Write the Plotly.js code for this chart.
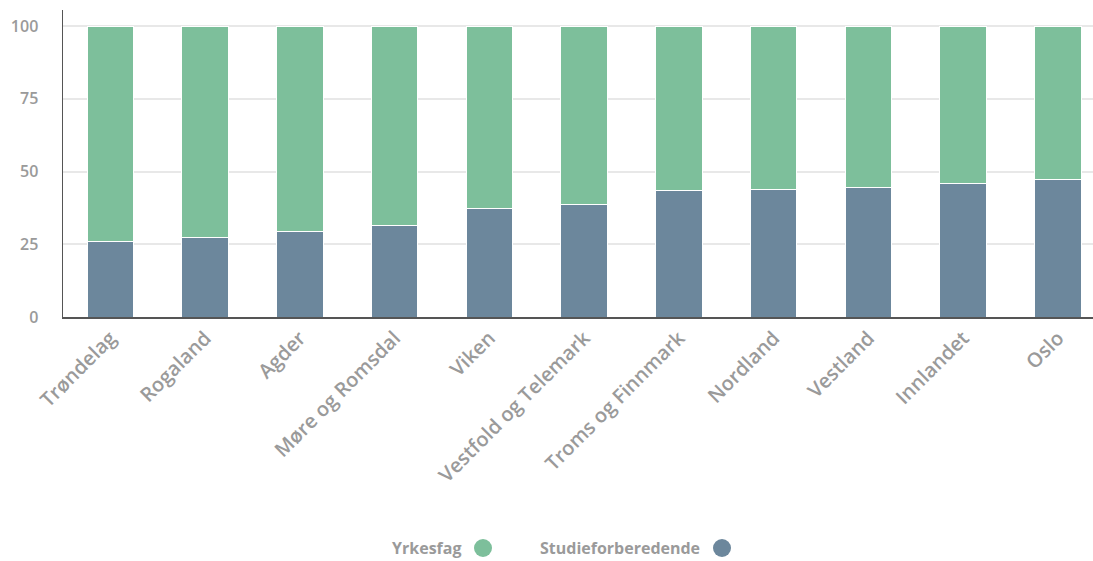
<!DOCTYPE html>
<html>
<head>
<meta charset="utf-8">
<script src="https://cdn.plot.ly/plotly-3.0.1.min.js"></script>
<style>html,body{margin:0;padding:0;background:#fff;}#chart{width:1093px;height:561px;}</style>
</head>
<body>
<div id="chart"></div>
<script>
const categories = ["Trøndelag","Rogaland","Agder","Møre og Romsdal","Viken","Vestfold og Telemark","Troms og Finnmark","Nordland","Vestland","Innlandet","Oslo"];
const studieforberedende = [25.8, 27.3, 29.4, 31.5, 37.2, 38.7, 43.4, 43.9, 44.5, 46.0, 47.1];
const yrkesfag = studieforberedende.map(v => +(100 - v).toFixed(1));
const yTicks = [0, 25, 50, 75, 100];
const legendNames = ["Yrkesfag", "Studieforberedende"];

const green = "#7dbf9b", blue = "#6c879c", grey = "#9a9a9a";
const fam = "Open Sans, sans-serif";

const traces = [
  {type: "bar", name: "Studieforberedende", x: categories, y: studieforberedende,
   marker: {color: blue, line: {color: "#ffffff", width: 1}}, width: 0.49},
  {type: "bar", name: "Yrkesfag", x: categories, y: yrkesfag,
   marker: {color: green, line: {color: "#ffffff", width: 1}}, width: 0.49}
];

const L = 63, W = 1030, T = 10, H = 307;
const px = x => (x - L) / W;
const py = y => (T + H - y) / H;
const legY = 548;

const layout = {
  width: 1093, height: 561,
  margin: {l: L, r: 0, t: T, b: 561 - T - H},
  barmode: "stack",
  showlegend: false,
  paper_bgcolor: "#fff", plot_bgcolor: "#fff",
  font: {family: fam, color: grey, size: 15},
  xaxis: {
    range: [-0.5, 10.37], tickangle: -45, showgrid: false,
    showline: true, linecolor: "#555", linewidth: 1.5, ticks: "",
    tickfont: {family: fam, color: grey, size: 20, weight: 600},
    fixedrange: true
  },
  yaxis: {
    range: [0, 105.5], tickvals: yTicks, ticktext: yTicks.map(String),
    showgrid: true, gridcolor: "#e8e8e8", gridwidth: 2, zeroline: false,
    showline: true, linecolor: "#555", linewidth: 1.5, ticks: "",
    ticklabelstandoff: 20,
    tickfont: {family: fam, color: grey, size: 16, weight: 600},
    fixedrange: true
  },
  annotations: [
    {xref: "paper", yref: "paper", x: px(463), y: py(legY), xanchor: "right", yanchor: "middle",
     showarrow: false, text: legendNames[0], font: {family: fam, color: grey, size: 16, weight: 700}},
    {xref: "paper", yref: "paper", x: px(702), y: py(legY), xanchor: "right", yanchor: "middle",
     showarrow: false, text: legendNames[1], font: {family: fam, color: grey, size: 16, weight: 700}}
  ],
  shapes: [
    {type: "circle", xref: "paper", yref: "paper", x0: px(474), x1: px(492), y0: py(legY + 9), y1: py(legY - 9),
     fillcolor: green, line: {width: 0}},
    {type: "circle", xref: "paper", yref: "paper", x0: px(713), x1: px(731), y0: py(legY + 9), y1: py(legY - 9),
     fillcolor: blue, line: {width: 0}}
  ]
};

Plotly.newPlot("chart", traces, layout, {displayModeBar: false, staticPlot: true});
</script>
</body>
</html>
